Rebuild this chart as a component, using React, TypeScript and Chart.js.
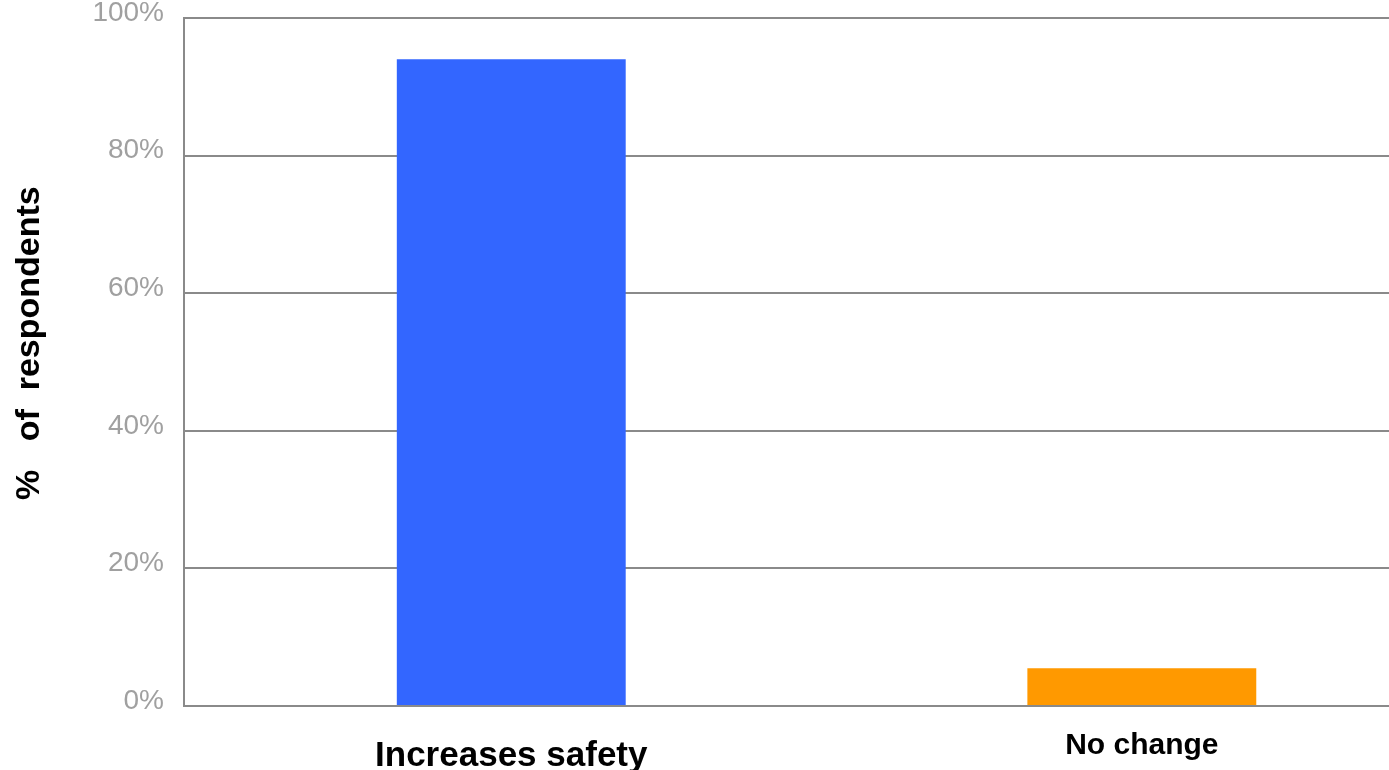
import React, { useEffect, useRef } from "react";
import { Chart, registerables } from "chart.js";

Chart.register(...registerables);

const categories: string[] = ["Increases safety", "No change"];
const values: number[] = [94, 5.5];
const barColors: string[] = ["#3366ff", "#ff9900"];
const yTicks: number[] = [0, 20, 40, 60, 80, 100];
const yTitle = "    %   of  respondents";
const labelSizes: number[] = [35, 30];
const labelLineHeights: number[] = [1.2, 0.7];

const FONT = "'Liberation Sans', Arial, Helvetica, sans-serif";
const GRID = "#8a8a8a";

export default function App() {
  const ref = useRef<HTMLCanvasElement | null>(null);

  useEffect(() => {
    if (!ref.current) return;
    const chart = new Chart(ref.current, {
      type: "bar",
      data: {
        datasets: [
          {
            data: values.map((v, i) => ({ x: i, y: v })),
            backgroundColor: barColors,
            borderWidth: 0,
            categoryPercentage: 1,
            barPercentage: 0.363,
          },
        ],
      },
      options: {
        responsive: false,
        animation: false,
        layout: { padding: { left: 8, top: 18, right: 0, bottom: 0 } },
        plugins: {
          legend: { display: false },
          tooltip: { enabled: false },
        },
        scales: {
          x: {
            type: "linear",
            offset: false,
            min: -0.519,
            max: 1.392,
            grid: { display: false, offset: false },
            border: { display: true, color: GRID, width: 2 },
            afterBuildTicks: (s: any) => {
              s.ticks = categories.map((_, i) => ({ value: i }));
            },
            afterFit: (s: any) => {
              s.height = 770 - 706;
              s.paddingLeft = 0;
              s.paddingRight = 0;
            },
            ticks: {
              padding: 21,
              maxRotation: 0,
              autoSkip: false,
              color: "#000000",
              font: (ctx: any) => ({
                family: FONT,
                weight: "bold",
                size: labelSizes[ctx.index] ?? 30,
                lineHeight: labelLineHeights[ctx.index] ?? 1.2,
              }),
              callback: (v: any) => categories[Math.round(Number(v))] ?? "",
            },
          },
          y: {
            min: 0,
            max: 100,
            afterBuildTicks: (s: any) => {
              s.ticks = yTicks.map((v) => ({ value: v }));
            },
            afterFit: (s: any) => {
              s.width = 176;
              s.paddingTop = 0;
              s.paddingBottom = 0;
            },
            grid: { color: GRID, lineWidth: 2, drawTicks: false },
            border: { display: true, color: GRID, width: 2 },
            ticks: {
              padding: 20,
              labelOffset: -5,
              color: "#a0a0a0",
              font: { family: FONT, size: 28 },
              callback: (v: any) => `${v}%`,
            },
            title: {
              display: true,
              text: yTitle,
              color: "#000000",
              padding: { top: 1, bottom: 0 },
              font: { family: FONT, size: 34, weight: "bold" },
            },
          },
        },
      },
    });
    return () => chart.destroy();
  }, []);

  return (
    <div style={{ position: "fixed", left: 0, top: 0, width: 1389, height: 770, background: "#ffffff" }}>
      <canvas ref={ref} width={1389} height={770} />
    </div>
  );
}
